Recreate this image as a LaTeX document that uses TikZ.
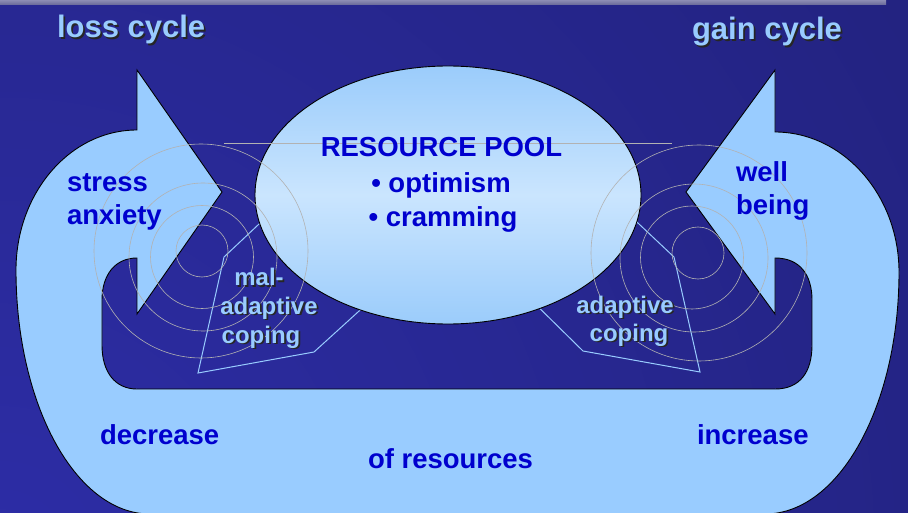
\documentclass[tikz,border=0pt]{standalone}
\usepackage{fontspec}
\setmainfont{Liberation Sans}
\usetikzlibrary{shapes.geometric}

\definecolor{bgcore}{RGB}{45,45,166}
\definecolor{bgedge}{RGB}{24,24,90}
\definecolor{sky}{RGB}{153,204,255}
\definecolor{ink}{RGB}{0,0,206}
\definecolor{poolA}{RGB}{155,204,251}
\definecolor{poolB}{RGB}{202,229,254}
\definecolor{ring}{RGB}{178,178,178}
\definecolor{barA}{RGB}{140,140,180}
\definecolor{barB}{RGB}{104,104,152}

\pgfdeclareradialshading{bgglow}{\pgfpointorigin}{color(0bp)=(bgcore); color(50bp)=(bgedge)}

% light label with a dark drop shadow: name, style, anchor, position, text
\newcommand{\raisedlabel}[5]{%
  \node[#2, text=black!85, anchor=#3, xshift=1.8pt, yshift=-1.8pt] (#1-shadow) at (#4) {#5};
  \node[#2, anchor=#3] (#1) at (#4) {#5};
}

\tikzset{
  every node/.style={inner sep=0pt, outer sep=0pt},
  cyclearrow/.style={fill=sky, draw=black, line width=0.9pt, line join=miter},
  ripple/.style={draw=ring, line width=0.6pt},
  hull/.style={draw=sky, line width=1pt, line join=miter},
  maintext/.style={font=\fontsize{27.5}{33}\selectfont\bfseries, text=ink},
  headtext/.style={font=\fontsize{31}{37}\selectfont\bfseries, text=sky},
  copetext/.style={font=\fontsize{24}{28}\selectfont\bfseries, text=sky},
}

\begin{document}
\begin{tikzpicture}[x=1pt, y=-1pt]
\useasboundingbox (0,0) rectangle (908,513);

% background
\begin{scope}
  \clip (0,0) rectangle (908,513);
  \shade[shading=bgglow] (0,560) circle (1080);
  \shade[top color=barA, bottom color=barB] (0,0) rectangle (886,5);
\end{scope}

% the two cycles: one band with an arrowhead at each end
\draw[cyclearrow] (222,192) -- (137,70) -- (137,130)
  .. controls (70,130) and (16,193) .. (16,270)
  .. controls (16,405) and (76,514) .. (150,514)
  -- (765,514)
  .. controls (839,514) and (899,406) .. (899,272)
  .. controls (899,195) and (843,132) .. (775,132)
  -- (775,70) -- (686,192) -- (775,314) -- (775,258)
  .. controls (800,258) and (812,275) .. (812,300)
  -- (812,345)
  .. controls (812,372) and (800,389) .. (775,389)
  -- (137,389)
  .. controls (115,389) and (102,372) .. (102,345)
  -- (102,300)
  .. controls (102,275) and (115,258) .. (137,258)
  -- (137,314) -- cycle;

% coping outlines, tucked under the pool
\draw[hull] (275,209) -- (224,257) -- (198,373) -- (314,352) -- (380,292);
\draw[hull] (622,208) -- (674,257) -- (700,372) -- (583,351) -- (520,289);

% resource pool
\node[ellipse, draw=black, line width=0.9pt, minimum width=386pt, minimum height=258pt,
      top color=poolA, bottom color=poolA, middle color=poolB] (pool) at (448,195) {};

% ripples
\draw[ripple] (202,251) circle (26);
\draw[ripple] (202,257) circle (51.5);
\draw[ripple] (203,257) circle (74);
\draw[ripple] (201,251) circle (107);
\draw[ripple] (698,253) circle (26);
\draw[ripple] (692,257.5) circle (51.5);
\draw[ripple] (694,258) circle (74);
\draw[ripple] (699,253) circle (108);
\draw[ripple] (224,143.5) -- (672,143.5);

% headings
\raisedlabel{loss}{headtext}{base west}{57,38}{loss cycle}
\raisedlabel{gain}{headtext}{base west}{692,40}{gain cycle}

% pool contents
\node[maintext, anchor=base] (pooltitle) at (441.5,157) {RESOURCE POOL};
\node[maintext, anchor=base] (optimism) at (441,193) {• optimism};
\node[maintext, anchor=base] (cramming) at (443,227) {• cramming};

% arrow labels
\node[maintext, anchor=base west] (stress) at (67,192) {stress};
\node[maintext, anchor=base west] (anxiety) at (67,225) {anxiety};
\node[maintext, anchor=base west] (well) at (736,182) {well};
\node[maintext, anchor=base west] (being) at (736,215) {being};
\node[maintext, anchor=base west] (decrease) at (100,444) {decrease};
\node[maintext, anchor=base west] (increase) at (697,444) {increase};
\node[maintext, anchor=base west] (resources) at (368,468) {of resources};

% coping labels
\raisedlabel{mal}{copetext}{base}{259,286}{mal-}
\raisedlabel{maladaptive}{copetext}{base}{269,314}{adaptive}
\raisedlabel{malcoping}{copetext}{base}{261,343}{coping}
\raisedlabel{adaptive}{copetext}{base}{625,313}{adaptive}
\raisedlabel{adcoping}{copetext}{base}{629,341}{coping}
\end{tikzpicture}
\end{document}
